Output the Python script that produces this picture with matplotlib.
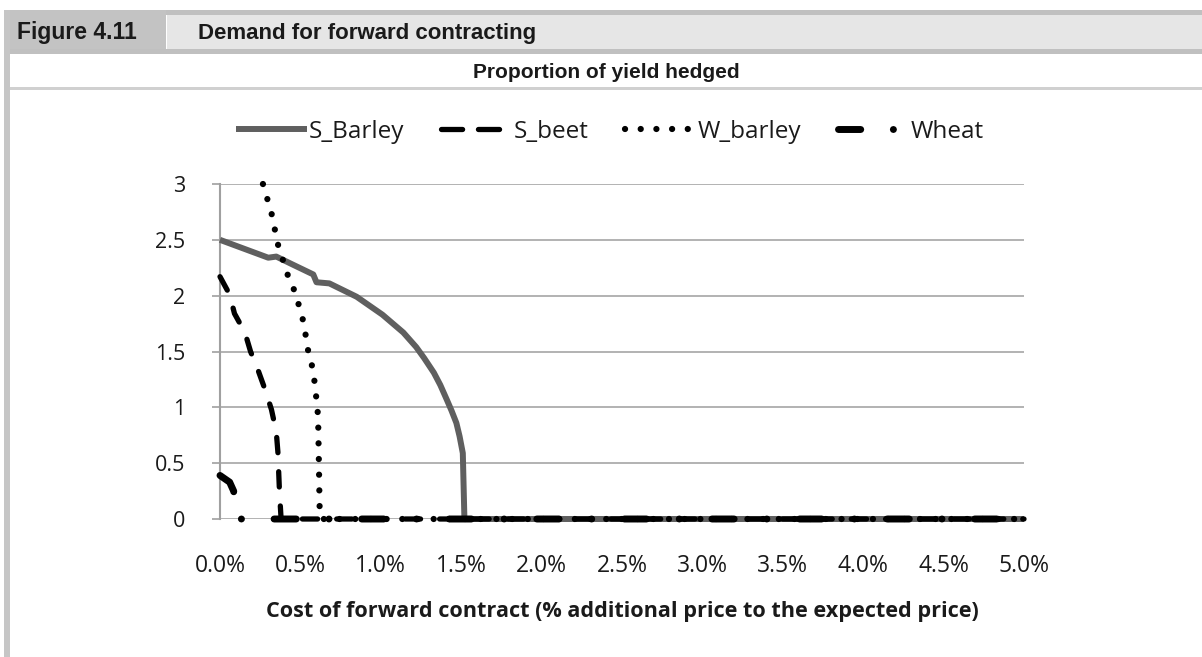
import numpy as np
import matplotlib
matplotlib.use('Agg')
import matplotlib.pyplot as plt
from matplotlib.patches import Rectangle
from matplotlib.lines import Line2D
from matplotlib.ticker import FuncFormatter

# data (x = cost of forward contract in %, y = proportion hedged)
s_barley_x = [0.00, 0.15, 0.30, 0.35, 0.45, 0.58, 0.60, 0.68, 0.85, 1.01, 1.14, 1.22, 1.27, 1.33, 1.37, 1.41, 1.44, 1.47, 1.49, 1.51, 1.52, 5.00]
s_barley_y = [2.50, 2.42, 2.34, 2.35, 2.28, 2.19, 2.12, 2.11, 1.99, 1.83, 1.67, 1.54, 1.44, 1.31, 1.20, 1.07, 0.97, 0.86, 0.74, 0.59, 0.00, 0.00]

s_beet_x = [0.00, 0.06, 0.09, 0.155, 0.19, 0.24, 0.28, 0.32, 0.35, 0.36, 0.37, 0.38, 5.00]
s_beet_y = [2.17, 2.01, 1.84, 1.67, 1.50, 1.32, 1.16, 0.98, 0.78, 0.60, 0.24, 0.00, 0.00]

w_barley_x = [0.267, 0.32, 0.36, 0.42, 0.47, 0.52, 0.55, 0.58, 0.60, 0.61, 0.615, 0.62, 0.63, 5.00]
w_barley_y = [3.00, 2.74, 2.46, 2.19, 2.02, 1.76, 1.49, 1.33, 1.07, 0.92, 0.50, 0.06, 0.00, 0.00]

wheat_x = [0.00, 0.06, 0.085, 0.10, 5.00]
wheat_y = [0.39, 0.33, 0.25, 0.00, 0.00]

series_names = ['S_Barley', 'S_beet', 'W_barley', 'Wheat']
x_ticks = [0.0, 0.5, 1.0, 1.5, 2.0, 2.5, 3.0, 3.5, 4.0, 4.5, 5.0]
y_ticks = [0, 0.5, 1, 1.5, 2, 2.5, 3]

W, H = 1202, 657
plt.rcParams['font.family'] = ['Open Sans', 'DejaVu Sans']
head_font = ['Liberation Sans', 'DejaVu Sans']
txt = '#1a1a1a'

fig = plt.figure(figsize=(W/100, H/100), dpi=100)

def px_rect(x0, y0, x1, y1, color):
  fig.add_artist(Rectangle((x0/W, 1-y1/H), (x1-x0)/W, (y1-y0)/H,
                           transform=fig.transFigure, facecolor=color, edgecolor='none', zorder=0))

# header frame
px_rect(4, 10, W, 15, '#c0c0c0')
px_rect(167, 15, W, 49, '#e6e6e6')
px_rect(4, 10, 166, 54, '#c3c3c3')
px_rect(4, 49, W, 54, '#c0c0c0')
px_rect(4, 10, 9.5, H, '#c6c6c6')
px_rect(9.5, 87, W, 90, '#d0d0d0')

fig.text(17/W, 1-33/H, 'Figure 4.11', family=head_font, weight='bold', fontsize=16.5, color=txt, va='center')
fig.text(198/W, 1-33/H, 'Demand for forward contracting', family=head_font, weight='bold', fontsize=16, color=txt, va='center')
fig.text(606/W, 1-73/H, 'Proportion of yield hedged', family=head_font, weight='bold', fontsize=15, color=txt, ha='center', va='center')

ax = fig.add_axes([220/W, 1-519/H, (1024-220)/W, (519-184)/H])

l1, = ax.plot(s_barley_x, s_barley_y, color='#5f5f5f', lw=4.3, solid_capstyle='butt', solid_joinstyle='round', clip_on=False, zorder=3)
l2, = ax.plot(s_beet_x, s_beet_y, color='black', lw=3.8, dashes=(2.9, 3.6), dash_capstyle='round', clip_on=False, zorder=4)
l3, = ax.plot(w_barley_x, w_barley_y, color='black', lw=4.5, dashes=(0.01, 2.5), dash_capstyle='round', clip_on=False, zorder=5)
l4, = ax.plot(wheat_x, wheat_y, color='black', lw=5.0, dashes=(3.2, 4.7, 0.01, 4.7), dash_capstyle='round', clip_on=False, zorder=6)

# legend proxy for S_beet so the handle shows two clean dashes
l2_leg = Line2D([], [], color='black', lw=3.8, dashes=(4.0, 3.0), dash_capstyle='round')

ax.set_xlim(0, 5)
ax.set_ylim(0, 3)
ax.set_xticks(x_ticks)
ax.set_yticks(y_ticks)
ax.xaxis.set_major_formatter(FuncFormatter(lambda v, p: '%.1f%%' % v))
ax.yaxis.set_major_formatter(FuncFormatter(lambda v, p: '%g' % v))
ax.tick_params(axis='x', length=0, pad=25, labelsize=16.5, labelcolor=txt)
ax.tick_params(axis='y', length=6, width=1.2, color='#a0a0a0', pad=19, labelsize=15.5, labelcolor=txt)
ax.grid(axis='y', color='#a6a6a6', lw=1.2)
ax.set_axisbelow(True)
for s in ['top', 'right', 'bottom']:
  ax.spines[s].set_visible(False)
ax.spines['left'].set_color('#a0a0a0')
ax.spines['left'].set_linewidth(1.5)

fig.text(622/W, 1-612/H, 'Cost of forward contract (% additional price to the expected price)',
         weight='bold', fontsize=15.6, color=txt, ha='center', va='center')

fig.legend([l1, l2_leg, l3, l4], series_names, loc='center', bbox_to_anchor=(610/W, 1-132/H), ncol=4,
           frameon=False, fontsize=17.5, handlelength=2.9, handletextpad=0.1, columnspacing=1.5,
           labelcolor=txt)

fig.savefig('out.png', dpi=100)
